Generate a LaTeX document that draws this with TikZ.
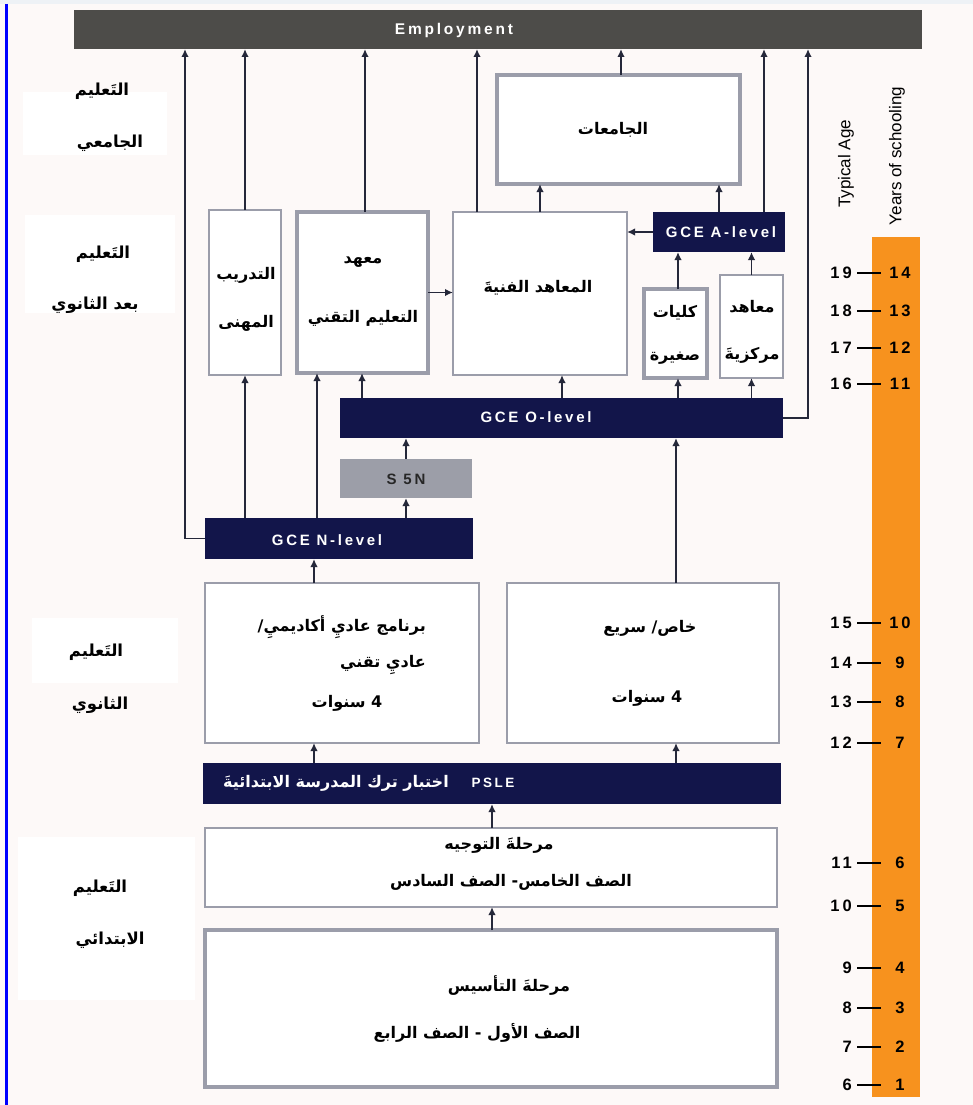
\documentclass[tikz,border=0pt]{standalone}
\usepackage{fontspec}
\setmainfont{Liberation Sans}
\newfontfamily\arabicfont[Script=Arabic]{DejaVu Sans}
\newfontfamily\widefont[LetterSpace=18]{Liberation Sans}
\TeXXeTstate=1
\usetikzlibrary{arrows.meta}
\definecolor{navy}{HTML}{12154A}
\definecolor{empgray}{HTML}{4D4C49}
\definecolor{boxgray}{HTML}{9B9DAA}
\definecolor{sfill}{HTML}{9C9EA8}
\definecolor{orangebar}{HTML}{F7921E}
\definecolor{bgpink}{HTML}{FDF9F8}
\definecolor{topstrip}{HTML}{EEF2F6}
\definecolor{linecol}{HTML}{25283A}
\definecolor{leftblue}{HTML}{0000FF}
\begin{document}
\begin{tikzpicture}[x=1pt,y=-1pt,
  bx/.style={draw=boxgray, line width=1.5pt, fill=white, inner sep=0pt, outer sep=0pt},
  thk/.style={line width=3.5pt},
  med/.style={line width=2.5pt},
  navybar/.style={fill=navy, draw=none, inner sep=0pt, outer sep=0pt},
  lbl/.style={fill=white, draw=none, inner sep=0pt, outer sep=0pt},
  ar/.style={font=\arabicfont\bfseries\fontsize{16}{19}\selectfont, inner sep=0pt, text=black},
  arl/.style={font=\arabicfont\bfseries\fontsize{16.5}{19}\selectfont, inner sep=0pt, text=black},
  gce/.style={font=\widefont\bfseries\fontsize{15}{15}\selectfont, text=white, inner sep=0pt},
  num/.style={font=\widefont\bfseries\fontsize{16.5}{16.5}\selectfont, inner sep=0pt},
  vlab/.style={font=\fontsize{17}{17}\selectfont, rotate=90, inner sep=0pt},
  arr/.style={draw=linecol, line width=1.9pt, -{Latex[length=8pt,width=7.5pt]}},
  tick/.style={draw=black, line width=1.7pt}
]
\useasboundingbox (0,0) rectangle (973,1105);
\fill[bgpink] (0,0) rectangle (973,1105);
\fill[topstrip] (0,0) rectangle (973,4);
\draw[leftblue, line width=3pt] (6.5,4) -- (6.5,1105);

% column coordinates
\coordinate (c185) at (185,0);
\coordinate (c317) at (317,0);
\coordinate (c362) at (362,0);
\coordinate (c365) at (365,0);
\coordinate (c477) at (477,0);
\coordinate (c562) at (562,0);
\coordinate (c621) at (621,0);
\coordinate (c678) at (678,0);
\coordinate (c676) at (676,0);
\coordinate (c764) at (764,0);
\coordinate (c808) at (808,0);
\coordinate (c314) at (314,0);
\coordinate (c492) at (492,0);

% left labels
\node[lbl, minimum width=144pt, minimum height=63pt] (lb1) at (95,123.5) {};
\node[lbl, minimum width=150pt, minimum height=98pt] (lb2) at (100,264) {};
\node[lbl, minimum width=146pt, minimum height=65pt] (lb3) at (105,650.5) {};
\node[lbl, minimum width=177pt, minimum height=163pt] (lb4) at (106.5,918.5) {};
\node[arl] (lt1a) at (102,91) {\beginR التَعليم\endR};
\node[arl] (lt1b) at (110,143) {\beginR الجامعي\endR};
\node[arl] (lt2a) at (103,254) {\beginR التَعليم\endR};
\node[arl] (lt2b) at (95,305) {\beginR بعد الثانوي\endR};
\node[arl] (lt3a) at (96,652) {\beginR التَعليم\endR};
\node[arl] (lt3b) at (100,705) {\beginR الثانوي\endR};
\node[arl] (lt4a) at (100,888) {\beginR التَعليم\endR};
\node[arl] (lt4b) at (110,940) {\beginR الابتدائي\endR};

% employment
\node[fill=empgray, inner sep=0pt, outer sep=0pt, minimum width=848pt, minimum height=39pt] (emp) at (498,29.5) {};
\node[gce, font=\widefont\bfseries\fontsize{15.5}{15.5}\selectfont] (empt) at (454,30) {Employment};

% boxes
\node[bx, thk, minimum width=243pt, minimum height=109pt] (uni) at (618.5,129.5) {};
\node[ar] (unit) at (613,130) {\beginR الجامعات\endR};

\node[bx, minimum width=72pt, minimum height=165pt] (voc) at (245,292.5) {};
\node[ar] (voct1) at (246,275) {\beginR التدريب\endR};
\node[ar] (voct2) at (246,323) {\beginR المهنى\endR};

\node[bx, thk, minimum width=131pt, minimum height=161pt] (tech) at (362.5,292.5) {};
\node[ar] (techt1) at (363,262) {\beginR معهد\endR};
\node[ar] (techt2) at (363,318) {\beginR التعليم التقني\endR};

\node[bx, med, minimum width=174pt, minimum height=163pt] (poly) at (540,293.5) {};
\node[ar] (polyt) at (538,288) {\beginR المعاهد الفنيةَ\endR};

\node[navybar, minimum width=132pt, minimum height=40pt] (alev) at (719,232) {};
\node[gce] (alevt) at (721,232) {GCE A-level};

\node[bx, thk, minimum width=63pt, minimum height=89pt] (jc) at (675.5,333.5) {};
\node[ar] (jct1) at (675,313) {\beginR كليات\endR};
\node[ar] (jct2) at (675,358) {\beginR صغيرة\endR};

\node[bx, minimum width=63pt, minimum height=103pt] (ci) at (751.5,326.5) {};
\node[ar] (cit1) at (752,307) {\beginR معاهد\endR};
\node[ar] (cit2) at (752,355) {\beginR مركزيةَ\endR};

\node[navybar, minimum width=443pt, minimum height=40pt] (olev) at (561.5,418) {};
\node[gce] (olevt) at (536,417) {GCE O-level};

\node[fill=sfill, inner sep=0pt, outer sep=0pt, minimum width=132pt, minimum height=39pt] (s5n) at (406,478.5) {};
\node[gce, text=black!85] (s5nt) at (406,479) {S 5N};

\node[navybar, minimum width=268pt, minimum height=41pt] (nlev) at (339,538.5) {};
\node[gce] (nlevt) at (327,540) {GCE N-level};

\node[bx, minimum width=274pt, minimum height=160pt] (norm) at (342,663) {};
\node[ar, anchor=east] (normt1) at (426,627) {\beginR برنامج عاديِ أكاديميِ/\endR};
\node[ar, anchor=east] (normt2) at (426,665) {\beginR عاديِ تقني\endR};
\node[ar] (normt3) at (347,703) {\beginR 4 سنوات\endR};

\node[bx, minimum width=272pt, minimum height=160pt] (exp) at (643,663) {};
\node[ar] (expt1) at (650,628) {\beginR خاص/ سريع\endR};
\node[ar] (expt2) at (647,698) {\beginR 4 سنوات\endR};

\node[navybar, minimum width=578pt, minimum height=41pt] (psle) at (492,783.5) {};
\node[ar, text=white, anchor=east] (pslear) at (449,783) {\beginR اختبار ترك المدرسة الابتدائيةَ\endR};
\node[gce, font=\widefont\bfseries\fontsize{13.5}{13.5}\selectfont] (pslet) at (493,783) {PSLE};

\node[bx, minimum width=572pt, minimum height=79pt] (orient) at (491,867.5) {};
\node[ar] (orientt1) at (499,845) {\beginR مرحلةَ التوجيه\endR};
\node[ar] (orientt2) at (511,882) {\beginR الصف الخامس- الصف السادس\endR};

\node[bx, thk, minimum width=572pt, minimum height=157pt] (found) at (491,1008.5) {};
\node[ar] (foundt1) at (509,985) {\beginR مرحلةَ التأسيس\endR};
\node[ar] (foundt2) at (477,1033) {\beginR الصف الأول - الصف الرابع\endR};

% connectors
\draw[arr] (nlev.west) -| (emp.south -| c185);
\draw[arr] (voc.north) -- (voc.north |- emp.south);
\draw[arr] (nlev.north -| voc.south) -- (voc.south);
\draw[arr] (tech.north -| c365) -- (emp.south -| c365);
\draw[arr] (nlev.north -| c317) -- (tech.south -| c317);
\draw[arr] (olev.north -| c362) -- (tech.south -| c362);
\draw[arr] (tech.east) -- (tech.east -| poly.west);
\draw[arr] (poly.north -| c477) -- (emp.south -| c477);
\draw[arr] (poly.north) -- (poly.north |- uni.south);
\draw[arr] (uni.north -| c621) -- (emp.south -| c621);
\draw[arr] (alev.north) -- (alev.north |- uni.south);
\draw[arr] (alev.north -| c764) -- (emp.south -| c764);
\draw[arr] (alev.west) -- (alev.west -| poly.east);
\draw[arr] (jc.north -| c678) -- (alev.south -| c678);
\draw[arr] (ci.north) -- (ci.north |- alev.south);
\draw[arr] (olev.north -| c562) -- (poly.south -| c562);
\draw[arr] (olev.north -| c678) -- (jc.south -| c678);
\draw[arr] (olev.north -| ci.south) -- (ci.south);
\draw[arr] (olev.east) -| (emp.south -| c808);
\draw[arr] (nlev.north -| s5n.south) -- (s5n.south);
\draw[arr] (s5n.north) -- (s5n.north |- olev.south);
\draw[arr] (norm.north -| c314) -- (nlev.south -| c314);
\draw[arr] (exp.north -| c676) -- (olev.south -| c676);
\draw[arr] (psle.north -| c314) -- (norm.south -| c314);
\draw[arr] (psle.north -| c676) -- (exp.south -| c676);
\draw[arr] (orient.north -| c492) -- (psle.south -| c492);
\draw[arr] (found.north -| c492) -- (orient.south -| c492);

% scale
\fill[orangebar] (872,237) rectangle (920,1097);
\node[vlab] (tage) at (846,164) {Typical Age};
\node[vlab] (ysch) at (897,156) {Years of schooling};
\foreach \yy/\ag/\yr in {273/19/14, 311/18/13, 348/17/12, 384/16/11, 623/15/10, 663/14/9, 702/13/8, 743/12/7, 863/11/6, 906/10/5, 968/9/4, 1008/8/3, 1047/7/2, 1085/6/1}{
  \node[num, anchor=east] (age\ag) at (852,\yy) {\ag};
  \node[num] (yr\yr) at (900,\yy) {\yr};
  \draw[tick] (857,\yy) -- (881,\yy);
}
\end{tikzpicture}
\end{document}
